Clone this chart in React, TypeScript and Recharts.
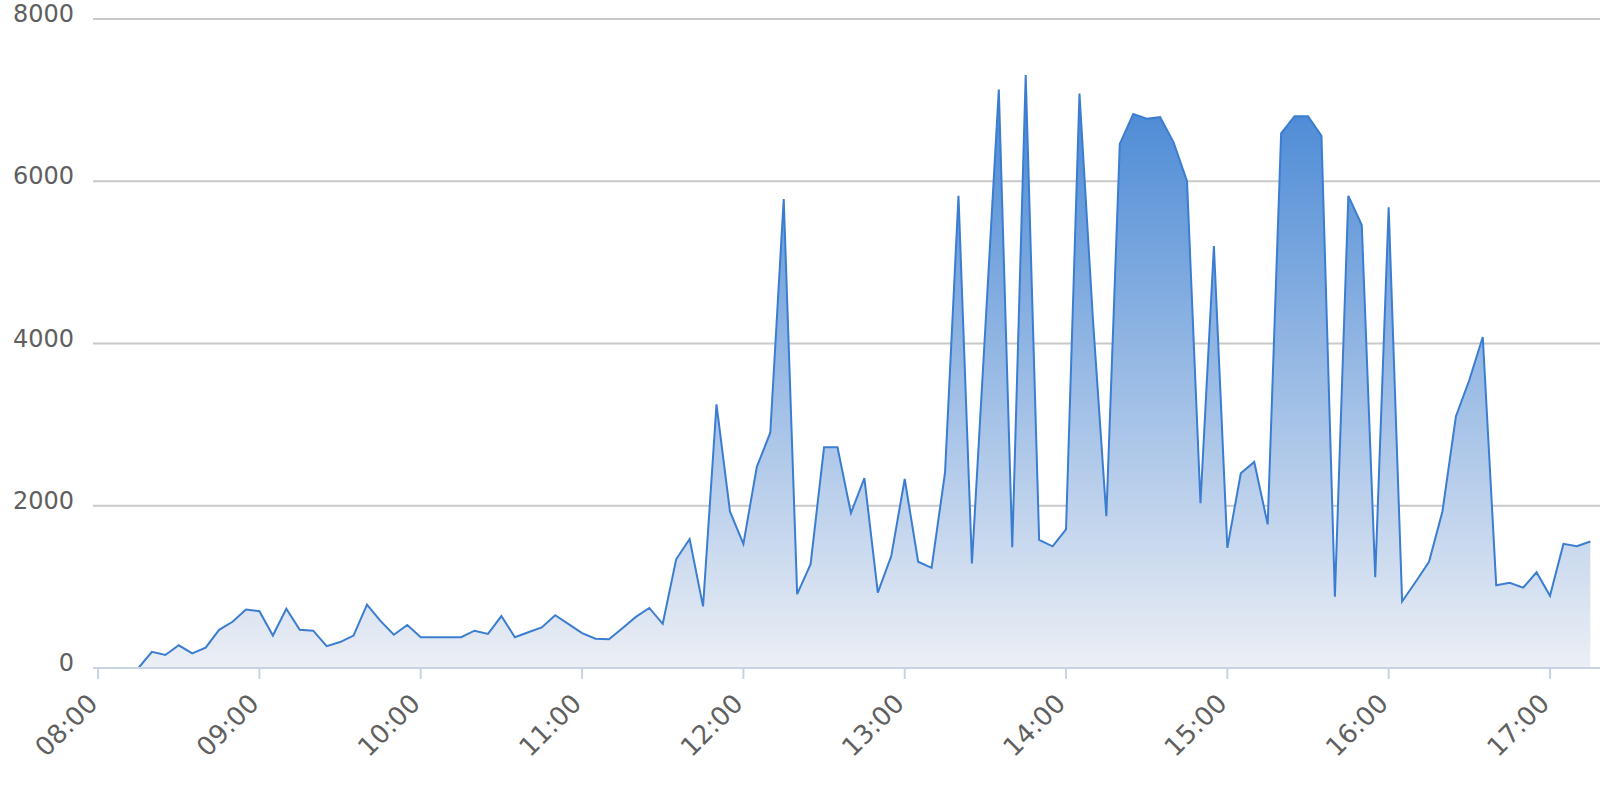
import React from 'react';
import { Area, AreaChart, CartesianGrid, XAxis, YAxis } from 'recharts';

// readings every 5 minutes, first one at 08:15
const startMinute = 8 * 60 + 15;
const stepMinutes = 5;

const h08 = [0, 200, 160, 280, 180, 250, 470, 570, 720];
const h09 = [700, 400, 730, 470, 460, 270, 320, 400, 780, 580, 410, 530];
const h10 = [380, 380, 380, 380, 460, 420, 640, 380, 440, 500, 650, 540];
const h11 = [430, 360, 355, 490, 630, 740, 545, 1340, 1590, 760, 3250, 1930];
const h12 = [1530, 2480, 2900, 5780, 910, 1280, 2720, 2720, 1910, 2340, 930, 1380];
const h13 = [2330, 1310, 1235, 2410, 5820, 1290, 4200, 7130, 1490, 7310, 1580, 1500];
const h14 = [1710, 7080, 4300, 1870, 6460, 6830, 6770, 6790, 6480, 6000, 2030, 5200];
const h15 = [1480, 2400, 2540, 1770, 6590, 6800, 6800, 6560, 880, 5820, 5460, 1120];
const h16 = [5680, 820, 1060, 1310, 1930, 3100, 3550, 4080, 1020, 1050, 990, 1180];
const h17 = [890, 1530, 1500, 1560];

const values = [...h08, ...h09, ...h10, ...h11, ...h12, ...h13, ...h14, ...h15, ...h16, ...h17];

const hourTicks = [480, 540, 600, 660, 720, 780, 840, 900, 960, 1020];
const yTicks = [0, 2000, 4000, 6000, 8000];

const data = values.map((v, i) => ({ t: startMinute + i * stepMinutes, v }));

const fmtTime = (m: number) => {
    const hh = Math.floor(m / 60);
    const mm = m % 60;
    return String(hh).padStart(2, '0') + ':' + String(mm).padStart(2, '0');
};

const labelColor = '#5f5f5f';
const fontFamily = '"DejaVu Sans", Verdana, sans-serif';

const YTick = (props: any) => {
    const { x, y, payload } = props;
    return (
        <text x={x} y={y + 3} textAnchor="end" fill={labelColor} fontSize={24} fontFamily={fontFamily}>
            {payload.value}
        </text>
    );
};

const XTick = (props: any) => {
    const { x, y, payload } = props;
    const px = x + 1;
    return (
        <text
            x={px}
            y={y}
            textAnchor="end"
            fill={labelColor}
            fontSize={26}
            fontFamily={fontFamily}
            transform={`rotate(-45, ${px}, ${y})`}
        >
            {fmtTime(payload.value)}
        </text>
    );
};

const App = () => {
    return (
        <div style={{ position: 'absolute', left: 0, top: 0, width: 1600, height: 800, background: '#fff', fontFamily }}>
            <AreaChart
                width={1600}
                height={800}
                data={data}
                margin={{ top: 19, right: 0, left: 0, bottom: 32 }}
            >
                <defs>
                    <linearGradient id="areaFill" x1="0" y1="0" x2="0" y2="1">
                        <stop offset="0" stopColor="#4485d4" stopOpacity={1} />
                        <stop offset="1" stopColor="#eceff5" stopOpacity={1} />
                    </linearGradient>
                </defs>
                <CartesianGrid vertical={false} stroke="#c9c9c9" strokeWidth={2} />
                <XAxis
                    dataKey="t"
                    type="number"
                    domain={[478.1, 1038.6]}
                    ticks={hourTicks}
                    allowDataOverflow
                    height={100}
                    axisLine={{ stroke: '#c8d4e4', strokeWidth: 2 }}
                    tickLine={{ stroke: '#c8d4e4', strokeWidth: 2 }}
                    tickSize={11}
                    tickMargin={26}
                    tick={<XTick />}
                    interval={0}
                />
                <YAxis
                    domain={[0, 8000]}
                    ticks={yTicks}
                    width={93}
                    axisLine={false}
                    tickLine={false}
                    tickSize={0}
                    tickMargin={19}
                    tick={<YTick />}
                    interval={0}
                />
                <Area
                    type="linear"
                    dataKey="v"
                    stroke="#3b7dd1"
                    strokeWidth={2}
                    fill="url(#areaFill)"
                    fillOpacity={1}
                    dot={false}
                    activeDot={false}
                    isAnimationActive={false}
                />
            </AreaChart>
        </div>
    );
};

export default App;
